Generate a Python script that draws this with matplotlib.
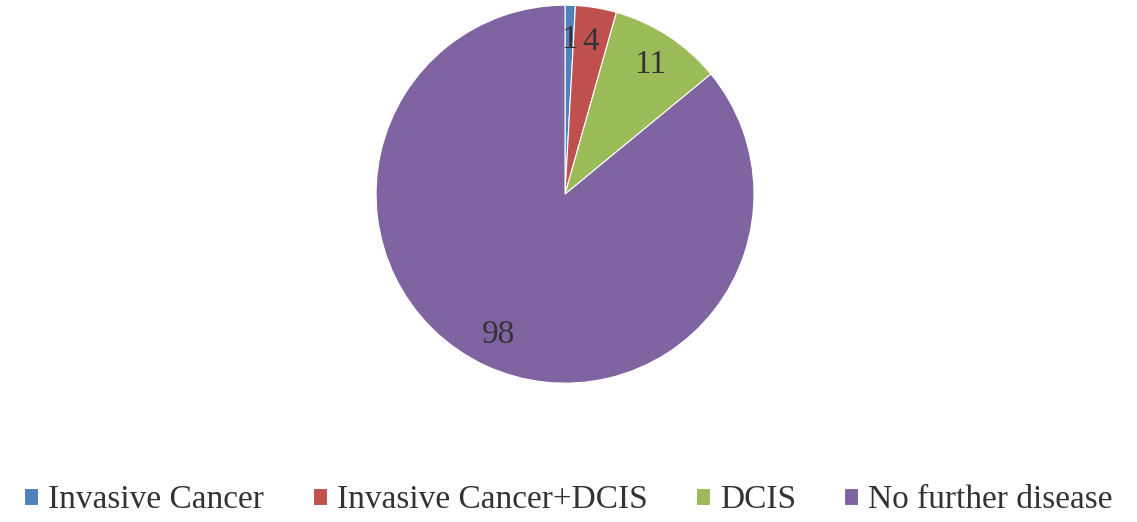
import matplotlib.pyplot as plt

# Outcome categories and counts
categories = ['Invasive Cancer', 'Invasive Cancer+DCIS', 'DCIS', 'No further disease']
counts = [1, 4, 11, 98]
colors = ['#4F81BD', '#C0504D', '#9BBB59', '#8064A2']

plt.rcParams['font.family'] = ['Liberation Serif', 'DejaVu Serif']

fig = plt.figure(figsize=(11.37, 5.22), dpi=100)
ax = fig.add_axes([0.3307, 0.266, 0.3325, 0.724])

wedges, texts = ax.pie(counts, labels=[str(c) for c in counts], colors=colors,
                       startangle=90, counterclock=False, labeldistance=0.82,
                       wedgeprops={'edgecolor': 'white', 'linewidth': 0.8},
                       textprops={'fontsize': 24, 'color': '#333333'})
for t in texts:
    t.set_horizontalalignment('center')
    t.set_verticalalignment('center')
ax.set_xlim(-1, 1)
ax.set_ylim(-1, 1)
ax.set_aspect('equal')

fig.legend(wedges, categories, loc='center', bbox_to_anchor=(0.5, 0.042), ncol=4,
           frameon=False, fontsize=24, handlelength=0.42, handleheight=0.42,
           handletextpad=0.3, columnspacing=1.45, labelcolor='#333333')

fig.savefig('out.png', dpi=100)
